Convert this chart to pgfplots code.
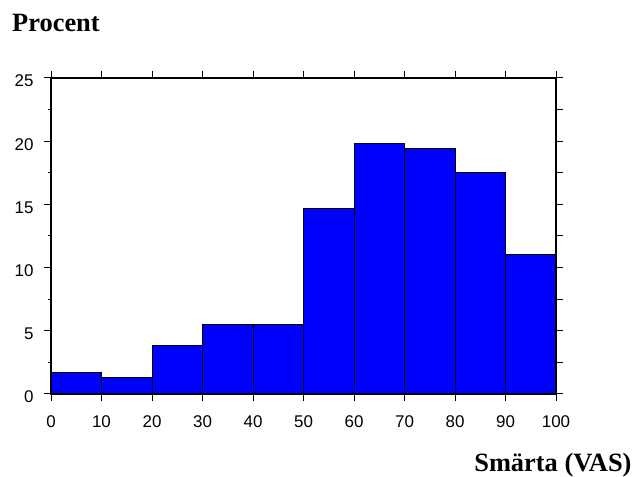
\documentclass[border=0pt]{standalone}
\usepackage{fontspec}
\setmainfont{Liberation Serif}
\newfontfamily\arialfont{Liberation Sans}
\usepackage{pgfplots}
\pgfplotsset{compat=1.18}
\begin{document}
\begin{tikzpicture}[x=1bp,y=1bp]
\path[use as bounding box] (0,0) rectangle (636,477);
\begin{axis}[
  at={(51bp,83bp)}, anchor=south west,
  scale only axis, width=505bp, height=316bp,
  xmin=0, xmax=100, ymin=0, ymax=25,
  xtick={0,10,...,100}, ytick={0,5,...,25},
  minor ytick={2.5,7.5,...,22.5},
  xtick pos=both, ytick pos=left,
  tick align=outside,
  major tick length=7bp, minor tick length=3bp,
  axis line style={line width=1.1pt},
  every tick/.style={black, line width=1pt},
  ticklabel style={font=\arialfont\fontsize{17}{20}\selectfont},
  /pgf/number format/assume math mode=true,
  xticklabel style={yshift=-11bp},
  yticklabel style={xshift=-7bp, yshift=-3bp},
]
\addplot[ybar interval, fill={rgb,255:red,0;green,0;blue,255}, draw=black, line width=1pt]
coordinates {(0,1.7)(10,1.3)(20,3.8)(30,5.5)(40,5.5)(50,14.7)(60,19.8)(70,19.4)(80,17.5)(90,11.0)(100,11.0)};
\end{axis}
\begin{axis}[
  at={(51bp,83bp)}, anchor=south west,
  scale only axis, width=505bp, height=316bp,
  xmin=0, xmax=100, ymin=0, ymax=25,
  hide x axis, axis y line*=right,
  ytick={0,2.5,...,25}, yticklabels={},
  tick align=outside, major tick length=7bp,
  axis line style={line width=1.1pt},
  every tick/.style={black, line width=1pt},
]
\addplot[draw=none] coordinates {(0,0)};
\end{axis}
\node[anchor=base west, inner sep=0pt, font=\bfseries\fontsize{26.5}{30}\selectfont] at (12,445.3) {Procent};
\node[anchor=base east, inner sep=0pt, font=\bfseries\fontsize{26.5}{30}\selectfont] at (631.7,5.3) {Smärta (VAS)};
\end{tikzpicture}
\end{document}
